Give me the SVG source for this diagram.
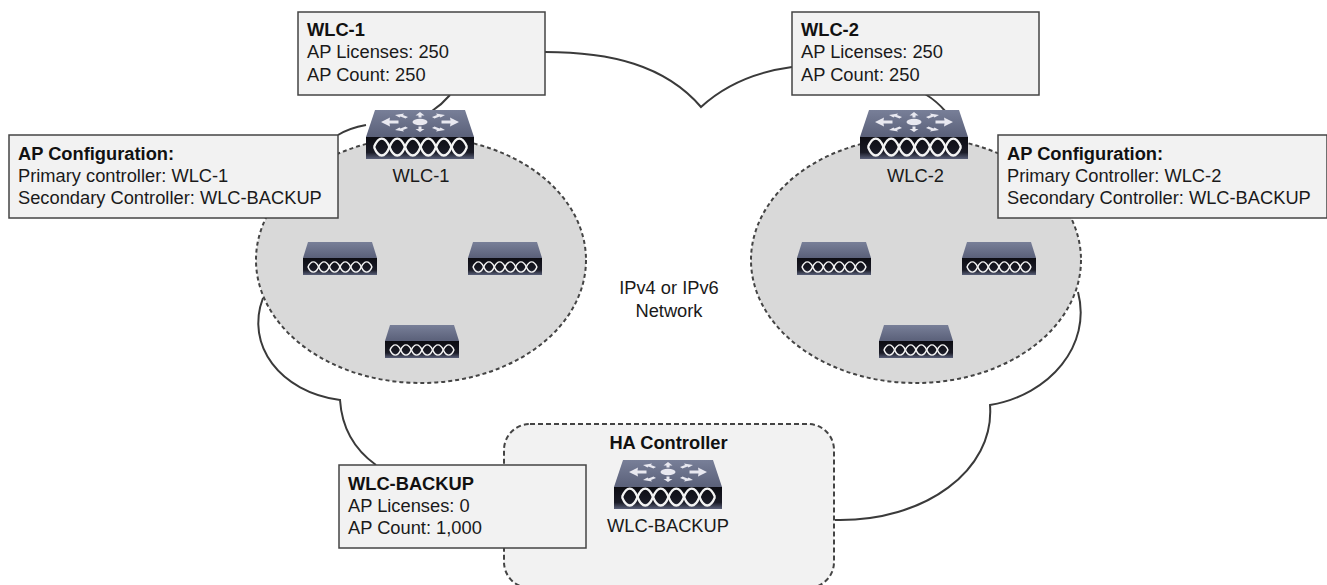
<svg xmlns="http://www.w3.org/2000/svg" width="1327" height="585" viewBox="0 0 1327 585">
<style>
text{font-family:"Liberation Sans",Arial,sans-serif;font-size:18.3px;fill:#1a1a1a}
.b{font-weight:bold;fill:#111}
.box{fill:#f2f2f2;stroke:#444;stroke-width:1.5}
.zone{fill:#d9d9d9;stroke:#444;stroke-width:2;stroke-dasharray:4 3}
.ha{fill:#f2f2f2;stroke:#444;stroke-width:2;stroke-dasharray:5 3}
.c{fill:none;stroke:#3a3a3a;stroke-width:2}
.m{text-anchor:middle}
</style>
<defs>
<linearGradient id="top" x1="0" y1="0" x2="0" y2="1"><stop offset="0" stop-color="#787f98"/><stop offset="1" stop-color="#5a6079"/></linearGradient>
<linearGradient id="front" x1="0" y1="0" x2="0" y2="1"><stop offset="0" stop-color="#0c0c12"/><stop offset=".7" stop-color="#1a1b26"/><stop offset="1" stop-color="#5a6079"/></linearGradient>
<g id="wave" fill="none" stroke="#f4f4f4" stroke-width="2.3">
<path d="M0 0c4.500-11.300 11-11.300 15.500 0s11 11.300 15.500 0 11-11.300 15.500 0 11 11.300 15.500 0 11-11.300 15.500 0 11 11.300 15.500 0"/>
<path d="M0 0c4.500 11.300 11 11.300 15.500 0s11-11.300 15.500 0 11 11.300 15.500 0 11-11.300 15.500 0 11 11.300 15.500 0 11-11.300 15.500 0"/>
</g>
<symbol id="wlc" viewBox="0 0 108 50" overflow="visible">
<path d="M9 0H99L108 27H0Z" fill="url(#top)"/>
<rect y="27" width="108" height="22" fill="url(#front)"/>
<use href="#wave" x="8" y="37"/>
<g fill="#e8e8f0"><ellipse cx="54" cy="12" rx="7.500" ry="3.200"/>
<path d="M54 2l4.500 3.500h-3v2h-3v-2h-3zM54 22l-4.500-3h3v-2.500h3v2.500h3zM15 12l9-4.500-.5 3h9v3h-9l.5 3zM93 12l-9-4.500.5 3h-9v3h9l-.5 3zM29 5l9-1.500-1 1.500 5 2-2.500 1.500-5-2-1 1zM79 5l-9-1.500 1 1.500-5 2 2.500 1.500 5-2 1 1zM29 20l9 1.500-1-1.500 5-2-2.500-1.500-5 2-1-1zM79 20l-9 1.500 1-1.500-5-2 2.500-1.500 5 2 1-1z"/></g>
</symbol>
<symbol id="ap" viewBox="0 0 74 33" overflow="visible">
<path d="M5 0H69L74 16H0Z" fill="url(#top)"/>
<rect y="16" width="74" height="17" fill="url(#front)"/>
<g transform="translate(5 25) scale(.688 .6)"><use href="#wave"/></g>
</symbol>
</defs>
<g id="connectors">
<path class="c" d="M545 52C610 52 665 65 701 107C725 85 755 72 792 67"/>
<path class="c" d="M925 94C935 100 941 106 946 112"/>
<path class="c" d="M1078 292C1092 345 1050 395 990 405C995 470 925 522 835 520"/>
<path class="c" d="M450 95C444 102 438 107 432 111"/>
<path class="c" d="M366 125C355 127 346 130 338 135"/>
<path class="c" d="M263 298C245 345 280 392 340 400C342 430 355 450 376 465"/>
</g>
<g id="zone-left"><ellipse class="zone" cx="421" cy="260" rx="165" ry="123"/></g>
<g id="zone-right"><ellipse class="zone" cx="916" cy="260" rx="165" ry="123"/></g>
<g id="ha-zone"><rect class="ha" x="504" y="424" width="330" height="164" rx="26"/><text class="b m" x="668.500" y="449">HA Controller</text></g>
<g id="wlc-1"><use href="#wlc" x="366" y="110" width="108" height="50"/><text class="m" x="421" y="182">WLC-1</text></g>
<g id="wlc-2"><use href="#wlc" x="860" y="110" width="108" height="50"/><text class="m" x="915.500" y="182">WLC-2</text></g>
<g id="wlc-backup"><use href="#wlc" x="614" y="460" width="108" height="50"/><text class="m" x="668" y="532">WLC-BACKUP</text></g>
<g id="ap-1"><use href="#ap" x="303" y="242" width="74" height="33"/></g>
<g id="ap-2"><use href="#ap" x="468" y="242" width="74" height="33"/></g>
<g id="ap-3"><use href="#ap" x="385" y="325" width="74" height="33"/></g>
<g id="ap-4"><use href="#ap" x="797" y="242" width="74" height="33"/></g>
<g id="ap-5"><use href="#ap" x="962" y="242" width="74" height="33"/></g>
<g id="ap-6"><use href="#ap" x="879" y="325" width="74" height="33"/></g>
<g id="box-wlc1"><rect class="box" x="298" y="12" width="247" height="83"/><text class="b" x="307" y="36">WLC-1</text><text x="307" y="58">AP Licenses: 250</text><text x="307" y="81">AP Count: 250</text></g>
<g id="box-wlc2"><rect class="box" x="792" y="12" width="247" height="83"/><text class="b" x="801" y="36">WLC-2</text><text x="801" y="58">AP Licenses: 250</text><text x="801" y="81">AP Count: 250</text></g>
<g id="box-cfg1"><rect class="box" x="9" y="135" width="329" height="83"/><text class="b" x="18" y="160">AP Configuration:</text><text x="18" y="182">Primary controller: WLC-1</text><text x="18" y="204">Secondary Controller: WLC-BACKUP</text></g>
<g id="box-cfg2"><rect class="box" x="998" y="135" width="329" height="83"/><text class="b" x="1007" y="160">AP Configuration:</text><text x="1007" y="182">Primary Controller: WLC-2</text><text x="1007" y="204">Secondary Controller: WLC-BACKUP</text></g>
<g id="box-backup"><rect class="box" x="339" y="465" width="247" height="83"/><text class="b" x="348" y="490">WLC-BACKUP</text><text x="348" y="512">AP Licenses: 0</text><text x="348" y="534">AP Count: 1,000</text></g>
<g id="network"><text class="m" x="669" y="294">IPv4 or IPv6</text><text class="m" x="669" y="317">Network</text></g>
</svg>
